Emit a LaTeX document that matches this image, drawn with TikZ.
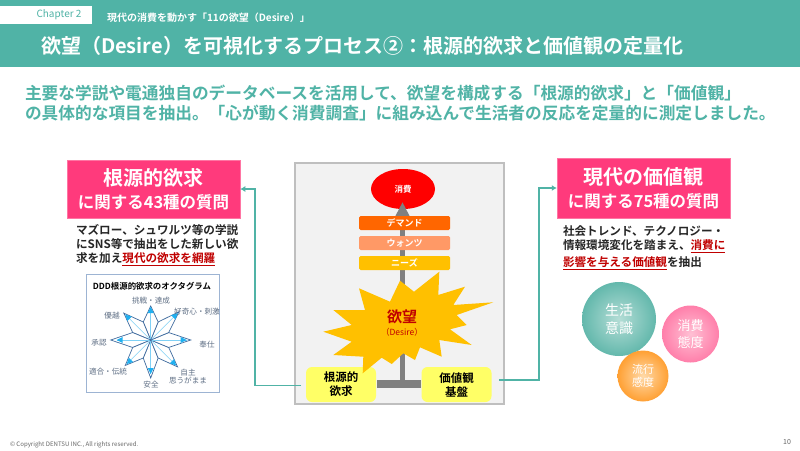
\documentclass[tikz,border=0pt]{standalone}
\usepackage{fontspec}
\usetikzlibrary{arrows.meta,shapes.geometric,calc}
\setmainfont{Noto Sans CJK JP}[BoldFont={Noto Sans CJK JP Bold}]
\newcommand\fs[1]{\fontsize{#1}{#1}\selectfont}
\definecolor{teal1}{HTML}{50B3A6}
\definecolor{pink1}{HTML}{FF3A7C}
\definecolor{redt}{HTML}{C00000}
\definecolor{octline}{HTML}{3E6A9E}
\definecolor{octarrow}{HTML}{7FD0F5}
\definecolor{octhead}{HTML}{1FB0F0}
\definecolor{octtext}{HTML}{5F6F85}
\definecolor{octframe}{HTML}{9DB4D3}
\definecolor{ybox}{HTML}{FFFF66}
\definecolor{orange1}{HTML}{FF6600}
\definecolor{orange2}{HTML}{FF9966}
\definecolor{orange3}{HTML}{FFC000}
\definecolor{tealc}{HTML}{B4DDD6}
\definecolor{tealo}{HTML}{63B8AC}
\definecolor{pinkc}{HTML}{FFC0D4}
\definecolor{pinko}{HTML}{FF7FAA}
\definecolor{orc}{HTML}{FFD9A8}
\definecolor{oro}{HTML}{FFA033}
\tikzset{
 txt/.style={inner sep=0pt,outer sep=0pt},
 pinkbox/.style={fill=pink1,draw=pink1!70!white,line width=.5pt,inner sep=0pt,align=center,text=white,font=\bfseries},
 para/.style={txt,anchor=north west,align=left,font=\bfseries\fs{11.6},text=black!85},
 bar/.style={rounded corners=1.5pt,minimum width=91pt,minimum height=14pt,inner sep=0pt,text=white,font=\bfseries\fs{9}},
 conn/.style={draw=teal1,line width=1.4pt,-{Latex[length=5pt,width=6pt]}},
 yellowbox/.style={fill=ybox,rounded corners=6pt,minimum width=70pt,minimum height=35pt,inner sep=0pt},
 ybtext/.style={txt,align=center,font=\bfseries\fs{11.5},text=black},
 octlab/.style={txt,font=\fs{7.6},text=octtext,align=center},
 bubble/.style={circle,inner sep=0pt,text=white,align=center},
}
\newcommand\ul[1]{\textcolor{redt}{\underline{#1}}}
\begin{document}
\begin{tikzpicture}[x=1pt,y=-1pt]
\useasboundingbox (0,0) rectangle (800,450);
\fill[white] (0,0) rectangle (800,450);
% header
\fill[teal1] (0,0) rectangle (800,67);
\fill[white] (0,6) rectangle (92,24);
\node[txt,text=teal1] (chap) at (59,15) {\fs{10}Chapter 2};
\node[txt,anchor=west,text=white,font=\bfseries\fs{10}] (sub) at (107,17.5) {現代の消費を動かす「11の欲望（Desire）」};
\node[txt,anchor=west,text=white,font=\bfseries\fs{20}] (title) at (41,46) {欲望（Desire）を可視化するプロセス②：根源的欲求と価値観の定量化};
\node[txt,anchor=west,text=teal1,font=\bfseries\fs{16.7}] (lead1) at (25,93) {主要な学説や電通独自のデータベースを活用して、欲望を構成する「根源的欲求」と「価値観」};
\node[txt,anchor=west,text=teal1,font=\bfseries\fs{16.7}] (lead2) at (25,113) {の具体的な項目を抽出。「心が動く消費調査」に組み込んで生活者の反応を定量的に測定しました。};
% left column
\node[pinkbox,minimum width=173pt,minimum height=58pt] (pinkL) at (153.5,189) {{\fs{20}根源的欲求}\\[6pt]{\fs{16.5}に関する43種の質問}};
\node[para] (paraL) at (76,224) {マズロー、シュワルツ等の学説\\[2.8pt]にSNS等で抽出をした新しい欲\\[2.8pt]求を加え\ul{現代の欲求を網羅}};
% octagram panel
\node[draw=octframe,line width=1pt,fill=white,minimum width=133pt,minimum height=118pt,inner sep=0pt] (octbox) at (152.5,333) {};
\node[txt,font=\bfseries\fs{8.4},text=black] (octtitle) at (152,286) {DDD根源的欲求のオクタグラム};
\coordinate (oc) at (150.7,340);
\foreach \ang/\len/\hd in {90/38/34,45/38/36,0/40/36,-45/40/38,-90/34/33,-135/38/36,180/40/34,135/36/34}{
  \draw[octline,line width=.7pt,fill=white] (oc) -- ($(oc)+({\ang+22.5}:19.5)$) -- ($(oc)+({\ang}:\len)$) -- ($(oc)+({\ang-22.5}:19.5)$) -- cycle;
}
\foreach \ang/\len/\hd in {90/38/34,45/38/36,0/40/36,-45/40/38,-90/34/33,-135/38/36,180/40/34,135/36/34}{
  \draw[octarrow,line width=.6pt] (oc) -- ($(oc)+({\ang}:\hd)$);
  \fill[octhead] ($(oc)+({\ang}:\hd)$) -- ($(oc)+({\ang}:\hd-6)+({\ang+90}:3)$) -- ($(oc)+({\ang}:\hd-6)+({\ang-90}:3)$) -- cycle;
}
\fill[octline] (oc) circle (1.4pt);
\node[octlab] (o1) at (151,301) {挑戦・達成};
\node[octlab] (o2) at (197,312) {好奇心・刺激};
\node[octlab] (o3) at (207,345) {奉仕};
\node[octlab] (o4) at (188,373) {自主};
\node[octlab] (o4b) at (188,381) {思うがまま};
\node[octlab] (o5) at (151,385) {安全};
\node[octlab] (o6) at (108,372) {適合・伝統};
\node[octlab] (o7) at (99,343) {承認};
\node[octlab] (o8) at (112,316) {優越};
% central panel
\node[draw=black!25,fill=black!5,line width=1.2pt,minimum width=209pt,minimum height=241pt,inner sep=0pt] (panel) at (399.5,283.5) {};
\node[ellipse,fill=red,minimum width=64pt,minimum height=40pt,inner sep=0pt,text=white,font=\bfseries\fs{8.5}] (cons) at (403,189) {消費};
\fill[black!50] (377,380) rectangle (421,388);
\coordinate (tbase) at (402.5,381);
\coordinate (ttip) at (402.5,202);
\draw[black!50,line width=5pt,-{Triangle[length=15pt,width=14pt]}] (tbase) -- (ttip);
\node[bar,fill=orange1] (b1) at (404.5,223) {デマンド};
\node[bar,fill=orange2] (b2) at (404.5,243) {ウォンツ};
\node[bar,fill=orange3] (b3) at (404.5,263) {ニーズ};
\node[yellowbox] (root) at (341,384.5) {};
\node[yellowbox] (val) at (456.5,384.5) {};
\fill[orange3] (400,280.7) -- (414,291.7) -- (439.3,271.7) -- (438.3,295) -- (465,286.7) -- (453.3,305) -- (493.3,302.3) -- (456.7,315) -- (466.7,325) -- (450,329.3) -- (471.7,345) -- (439.3,340) -- (441.7,356.7) -- (420,347.3) -- (415,360) -- (403.3,353.3) -- (391.7,364) -- (381.7,357.7) -- (362.7,373.3) -- (363.3,356.7) -- (333.3,355) -- (351.7,341.7) -- (323.3,331.7) -- (351.7,325) -- (333.3,310) -- (365,310) -- (359,288.3) -- (390,301.7) -- cycle;
\node[ybtext] (roott) at (341,384.5) {根源的\\[2.5pt]欲求};
\node[ybtext] (valt) at (456.5,384.5) {価値観\\[2.5pt]基盤};
\node[txt,text=redt,font=\bfseries\fs{15}] (des1) at (402,317) {欲望};
\node[txt,text=redt,font=\fs{8.5}] (des2) at (402,332) {（Desire）};
% right column
\node[pinkbox,minimum width=173pt,minimum height=60pt] (pinkR) at (643.5,188) {{\fs{20}現代の価値観}\\[6pt]{\fs{16.5}に関する75種の質問}};
\node[para] (paraR) at (563,225.5) {社会トレンド、テクノロジー・\\[2.8pt]情報環境変化を踏まえ、\ul{消費に}\\[2.8pt]\ul{影響を与える価値観}を抽出};
\node[bubble,minimum size=74pt,inner color=tealc,outer color=tealo,font=\fs{14}] (bub1) at (619,319) {生活\\[4pt]意識};
\node[bubble,minimum size=57pt,inner color=pinkc,outer color=pinko,font=\fs{13}] (bub2) at (690.5,334) {消費\\[4pt]態度};
\node[bubble,minimum size=51pt,inner color=orc,outer color=oro,font=\fs{11}] (bub3) at (643,376) {流行\\[2.5pt]感度};
% connectors
\coordinate (lstart) at (301,385.5);
\coordinate (rstart) at (499,380);
\draw[conn] (lstart) -- (255,385.5) |- (pinkL.east);
\draw[conn] (rstart) -- (539,380) |- (pinkR.west);
% footer
\node[txt,anchor=west,font=\fs{6.1},text=black!60] (copy) at (10,445) {© Copyright DENTSU INC., All rights reserved.};
\node[txt,font=\fs{7},text=black!60] (pg) at (787,442) {10};
\end{tikzpicture}
\end{document}
